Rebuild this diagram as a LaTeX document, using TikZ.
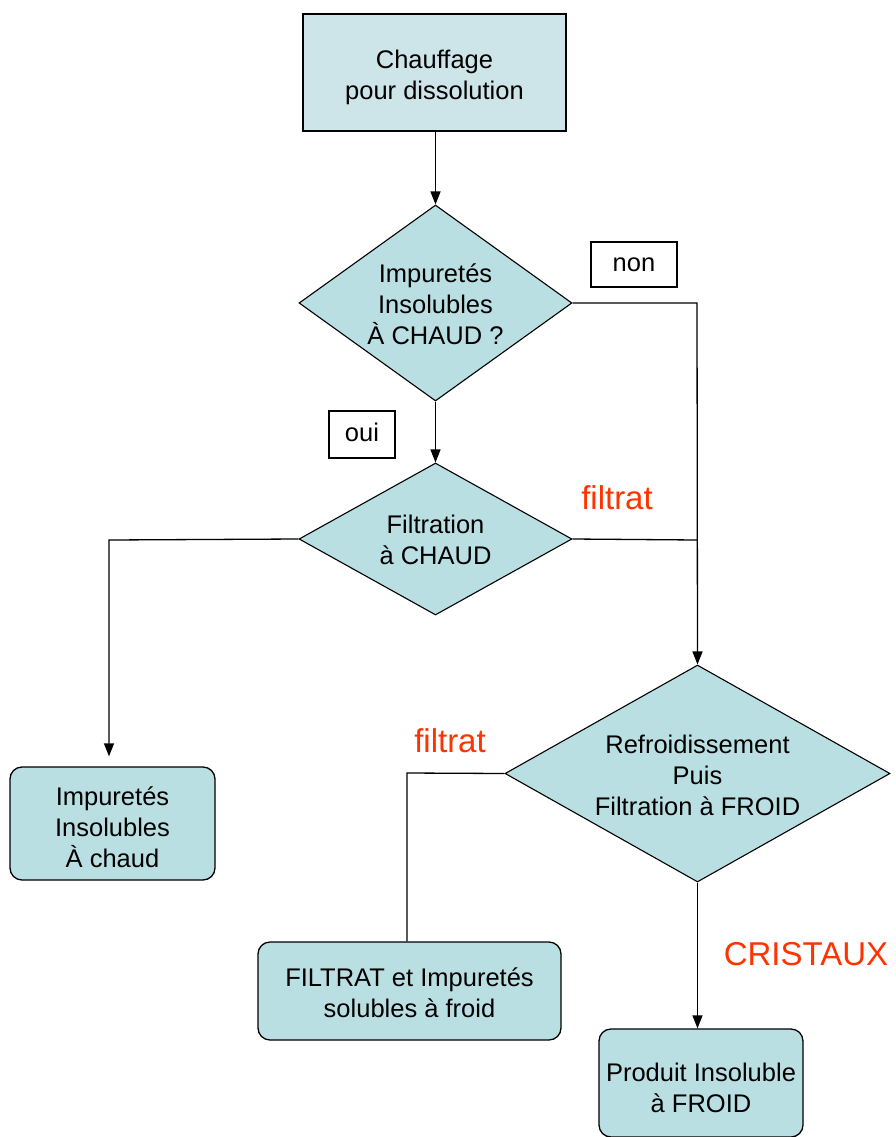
\documentclass[tikz,border=0pt]{standalone}
\usepackage{fontspec}
\setmainfont{Liberation Sans}
\usetikzlibrary{shapes.geometric,arrows.meta}
\definecolor{boxtop}{HTML}{CDE5E9}
\definecolor{boxfill}{HTML}{B9DFE2}
\definecolor{redlab}{HTML}{FF3300}
\tikzset{
  txt/.style={font=\fontsize{25.5}{31}\selectfont, align=center},
  rectbox/.style={draw=black, line width=1.3pt, fill=boxtop, inner sep=0pt},
  roundbox/.style={draw=black, line width=1.3pt, fill=boxfill, rounded corners=12pt, inner sep=0pt},
  decision/.style={diamond, draw=black, line width=1.1pt, fill=boxfill, inner sep=0pt},
  tagbox/.style={draw=black, line width=1.1pt, fill=white, txt, inner sep=0pt},
  redtxt/.style={text=redlab, font=\fontsize{33}{36}\selectfont},
  conn/.style={draw=black, line width=1.3pt},
  arr/.style={conn, -{Triangle[length=13pt,width=10pt]}},
}
\begin{document}
\begin{tikzpicture}[x=1pt,y=-1pt]
\useasboundingbox (0,0) rectangle (896,1137);
% nodes
\node[rectbox, minimum width=263pt, minimum height=117pt] (heat) at (434.5,72.5) {};
\node[txt] (heatt) at (434.5,77.5) {Chauffage\\pour dissolution};
\node[decision, minimum width=273pt, minimum height=196pt] (q1) at (435.5,303) {};
\node[txt] (q1t) at (435.5,304) {Impuretés\\Insolubles\\À CHAUD ?};
\node[tagbox, minimum width=86pt, minimum height=45pt, text depth=0pt, text height=14pt] (non) at (634,264.5) {non};
\node[tagbox, minimum width=66pt, minimum height=47pt, text depth=0pt, text height=14pt] (oui) at (362,434.5) {oui};
\node[decision, minimum width=273pt, minimum height=152pt] (q2) at (435.5,539) {};
\node[txt] (q2t) at (435.5,540) {Filtration\\à CHAUD};
\node[redtxt] (f1) at (617,498) {filtrat};
\node[roundbox, minimum width=205pt, minimum height=113pt] (imp) at (112.5,823.5) {};
\node[txt] (impt) at (112.5,827) {Impuretés\\Insolubles\\À chaud};
\node[decision, minimum width=385pt, minimum height=217pt] (q3) at (697.5,773.5) {};
\node[txt] (q3t) at (697.5,775.5) {Refroidissement\\Puis\\Filtration à FROID};
\node[redtxt] (f2) at (450,741) {filtrat};
\node[roundbox, minimum width=303pt, minimum height=98pt] (filt) at (409.5,991) {};
\node[txt] (filtt) at (409.5,993) {FILTRAT et Impuretés\\solubles à froid};
\node[redtxt] (cr) at (806,954) {CRISTAUX};
\node[roundbox, minimum width=204pt, minimum height=108pt] (prod) at (701,1083) {};
\node[txt] (prodt) at (701,1088) {Produit Insoluble\\à FROID};
% junctions
\coordinate (jn) at (697,303);
\coordinate (jf) at (697,540);
\coordinate (jl) at (109,540);
\coordinate (jr) at (407,773);
% connectors
\draw[arr] (heat.south -| q1.north) -- (q1.north);
\draw[arr] (q1.south) -- (q2.north);
\draw[arr] (q1.east) -- (jn) -- (q3.north);
\draw[conn] (q2.east) -- (jf);
\draw[arr, shorten >=10pt] (q2.west) -- (jl) -- (jl |- imp.north);
\draw[conn] (q3.west) -- (jr) -- (jr |- filt.north);
\draw[arr] (q3.south) -- (q3.south |- prod.north);
\end{tikzpicture}
\end{document}
